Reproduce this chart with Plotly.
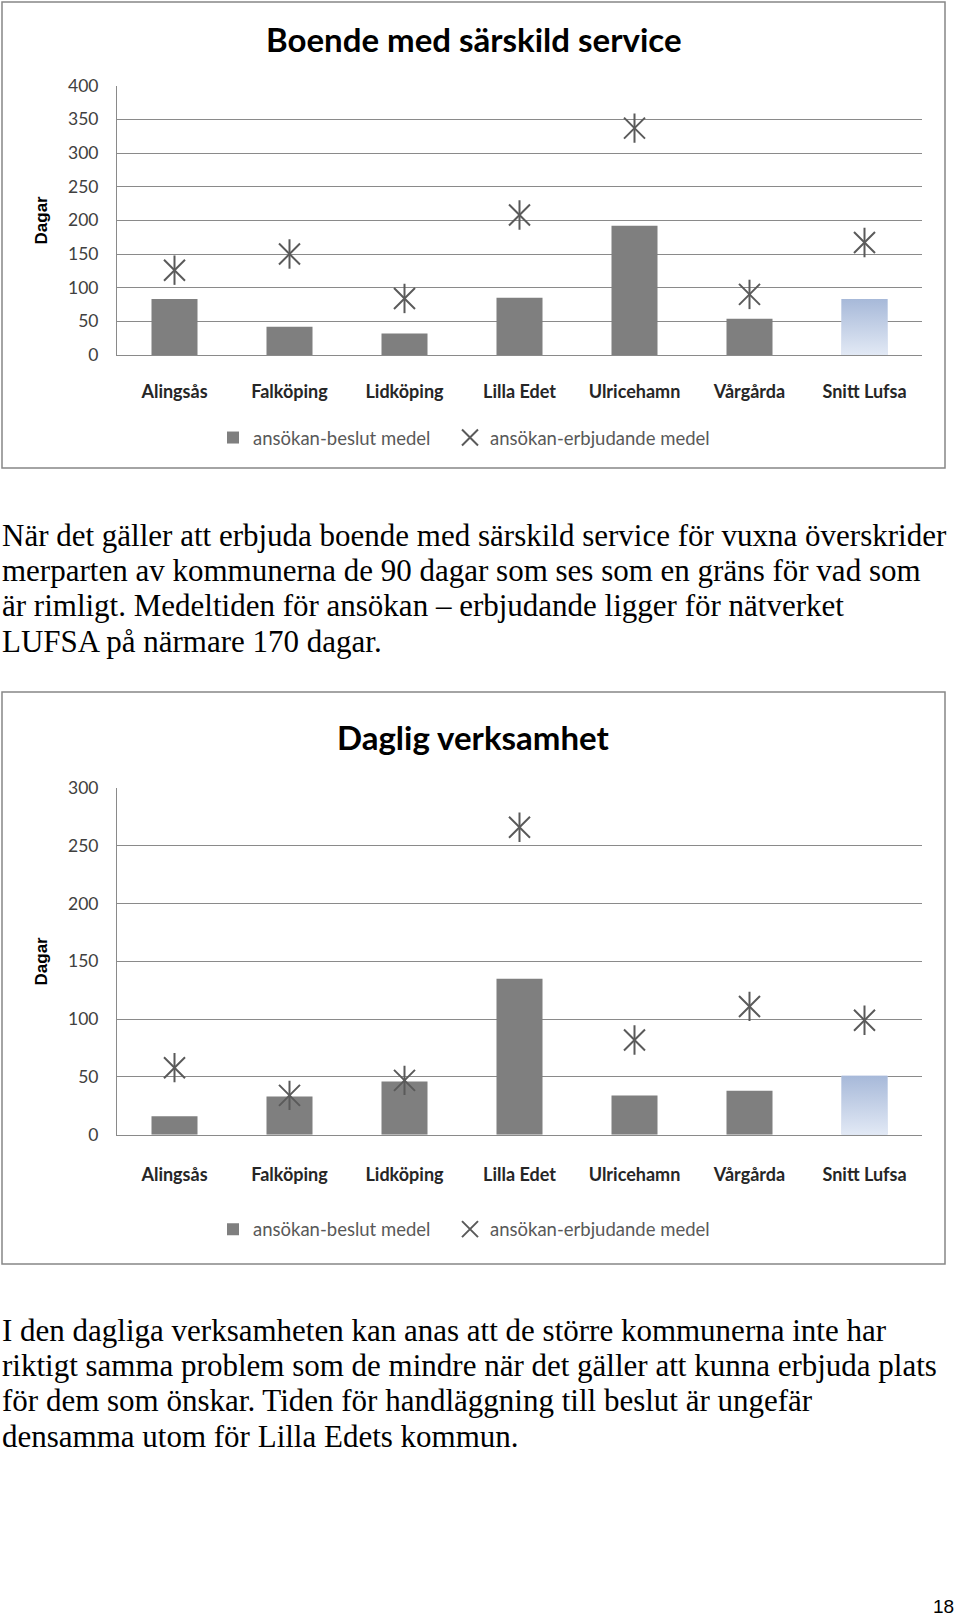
import plotly.graph_objects as go

# ---------------- data ----------------
categories = ["Alingsås", "Falköping", "Lidköping", "Lilla Edet",
              "Ulricehamn", "Vårgårda", "Snitt Lufsa"]

boende_beslut = [83, 42, 32, 85, 192, 54, 83]
boende_erbjud = [126, 150, 84, 208, 337, 90, 167]

daglig_beslut = [16, 33, 46, 135, 34, 38, 51]
daglig_erbjud = [58, 34, 47, 266, 82, 111, 99]

boende_yticks = [0, 50, 100, 150, 200, 250, 300, 350, 400]
daglig_yticks = [0, 50, 100, 150, 200, 250, 300]

series_names = ["ansökan-beslut medel", "ansökan-erbjudande medel"]
chart_titles = ["Boende med särskild service", "Daglig verksamhet"]
y_title = "Dagar"

para1 = [
    "När det gäller att erbjuda boende med särskild service för vuxna överskrider",
    "merparten av kommunerna de 90 dagar som ses som en gräns för vad som",
    "är rimligt. Medeltiden för ansökan – erbjudande ligger för nätverket",
    "LUFSA på närmare 170 dagar.",
]
para2 = [
    "I den dagliga verksamheten kan anas att de större kommunerna inte har",
    "riktigt samma problem som de mindre när det gäller att kunna erbjuda plats",
    "för dem som önskar. Tiden för handläggning till beslut är ungefär",
    "densamma utom för Lilla Edets kommun.",
]
page_number = "18"

# ---------------- style ----------------
W, H = 960, 1618
BAR_W = 0.4
BAR_COLOR = "#7f7f7f"
AVG_LIGHT = "#c3d0e8"
STAR_COLOR = "#5a5a5a"
GRID = "#8a8a8a"
SANS = "Lato, 'Open Sans', sans-serif"
SERIF = "'Liberation Serif', 'DejaVu Serif', serif"


def py(p):
    return 1 - p / H


def px(p):
    return p / W


xs = list(range(len(categories)))
avg_idx = categories.index("Snitt Lufsa")

fig = go.Figure()

charts = [
    dict(beslut=boende_beslut, erbjud=boende_erbjud, xa="x", ya="y",
         leg_bar="legend", leg_star="legend3"),
    dict(beslut=daglig_beslut, erbjud=daglig_erbjud, xa="x2", ya="y2",
         leg_bar="legend2", leg_star="legend4"),
]

for c in charts:
    colors = [BAR_COLOR] * len(categories)
    colors[avg_idx] = AVG_LIGHT
    fig.add_trace(go.Bar(
        x=xs, y=c["beslut"], width=BAR_W, name=series_names[0],
        marker=dict(color=colors, line=dict(width=0)),
        xaxis=c["xa"], yaxis=c["ya"], legend=c["leg_bar"], showlegend=True,
    ))
    # gradient overlay for the network average bar
    v = c["beslut"][avg_idx]
    half = BAR_W / 2
    fig.add_trace(go.Scatter(
        x=[avg_idx - half, avg_idx + half, avg_idx + half, avg_idx - half, avg_idx - half],
        y=[0, 0, v, v, 0], mode="lines", fill="toself",
        line=dict(width=0, color="rgba(0,0,0,0)"),
        fillgradient=dict(type="vertical",
                          colorscale=[[0, "#e2e9f5"], [1, "#a7b9d9"]]),
        hoverinfo="skip", showlegend=False,
        xaxis=c["xa"], yaxis=c["ya"],
    ))
    fig.add_trace(go.Scatter(
        x=xs, y=c["erbjud"], mode="markers", name=series_names[1],
        marker=dict(symbol="x-thin-open", size=21,
                    line=dict(width=2, color=STAR_COLOR), color=STAR_COLOR),
        xaxis=c["xa"], yaxis=c["ya"], legend=c["leg_star"], showlegend=True,
        legendgroup=c["leg_star"],
    ))
    fig.add_trace(go.Scatter(
        x=xs, y=c["erbjud"], mode="markers", name=series_names[1],
        marker=dict(symbol="line-ns-open", size=21,
                    line=dict(width=2, color=STAR_COLOR), color=STAR_COLOR),
        xaxis=c["xa"], yaxis=c["ya"], showlegend=False,
        legendgroup=c["leg_star"],
    ))

xdom = [px(117), px(922)]
common_x = dict(
    domain=xdom, range=[-0.5, 6.5], tickmode="array", tickvals=xs,
    ticktext=categories, showgrid=False, zeroline=False,
    showline=True, linecolor=GRID, linewidth=1, ticks="",
    tickfont=dict(family=SANS, size=18, color="#262626", weight="bold"),
    fixedrange=True, automargin=False,
)
common_y = dict(
    showgrid=True, gridcolor=GRID, gridwidth=1, zeroline=False,
    showline=True, linecolor=GRID, linewidth=1, ticks="",
    tickfont=dict(family=SANS, size=17.5, color="#404040"),
    ticklabelstandoff=14,
    title=dict(text=y_title, standoff=16,
               font=dict(family="'Liberation Sans', Arial, sans-serif",
                         size=17, color="#000000", weight="bold")),
    fixedrange=True, automargin=False,
)

legend_common = dict(orientation="h", xanchor="left", yanchor="middle",
                     bgcolor="rgba(0,0,0,0)",
                     font=dict(family=SANS, size=18.5, color="#595959"),
                     itemwidth=30)

fig.update_layout(
    width=W, height=H, autosize=False,
    margin=dict(l=0, r=0, t=0, b=0, pad=0, autoexpand=False),
    paper_bgcolor="white", plot_bgcolor="white",
    barmode="overlay",
    xaxis=dict(common_x, anchor="y", ticklabelstandoff=20),
    yaxis=dict(common_y, anchor="x", domain=[py(355), py(85.7)],
               range=[0, 400], tickvals=boende_yticks),
    xaxis2=dict(common_x, anchor="y2", ticklabelstandoff=24),
    yaxis2=dict(common_y, anchor="x2", domain=[py(1134.7), py(788)],
                range=[0, 300], tickvals=daglig_yticks),
    legend=dict(legend_common, x=px(213), y=py(438)),
    legend3=dict(legend_common, x=px(450), y=py(438)),
    legend2=dict(legend_common, x=px(213), y=py(1229.6)),
    legend4=dict(legend_common, x=px(450), y=py(1229.6)),
    showlegend=True,
)

# chart frames
for top, bottom in [(2, 468), (692, 1264)]:
    fig.add_shape(type="rect", xref="paper", yref="paper",
                  x0=px(2), x1=px(945), y0=py(bottom), y1=py(top),
                  line=dict(color="#878787", width=1.5), layer="below")

# chart titles
for title, yc in zip(chart_titles, [39, 737]):
    fig.add_annotation(text=title, xref="paper", yref="paper",
                       x=px(473.5), y=py(yc), xanchor="center", yanchor="middle",
                       showarrow=False,
                       font=dict(family=SANS, size=33, color="#000000", weight="bold"))

# body paragraphs
for lines, y0 in [(para1, 535), (para2, 1330)]:
    for i, line in enumerate(lines):
        fig.add_annotation(text=line, xref="paper", yref="paper",
                           x=0, y=py(y0 + i * 35.4), xanchor="left",
                           yanchor="middle", showarrow=False,
                           font=dict(family=SERIF, size=31, color="#000000"))

fig.add_annotation(text=page_number, xref="paper", yref="paper",
                   x=px(956), y=py(1606), xanchor="right", yanchor="middle",
                   showarrow=False,
                   font=dict(family="'Liberation Sans', Arial, sans-serif",
                             size=19, color="#000000"))

post = (
    "document.body.style.margin='0';"
    "document.body.style.overflow='hidden';"
    "var d=document.getElementById('{plot_id}');"
    "d.style.position='absolute';d.style.left='0px';d.style.top='0px';"
)

fig.write_html("out.html", post_script=post,
               config={"displayModeBar": False})
